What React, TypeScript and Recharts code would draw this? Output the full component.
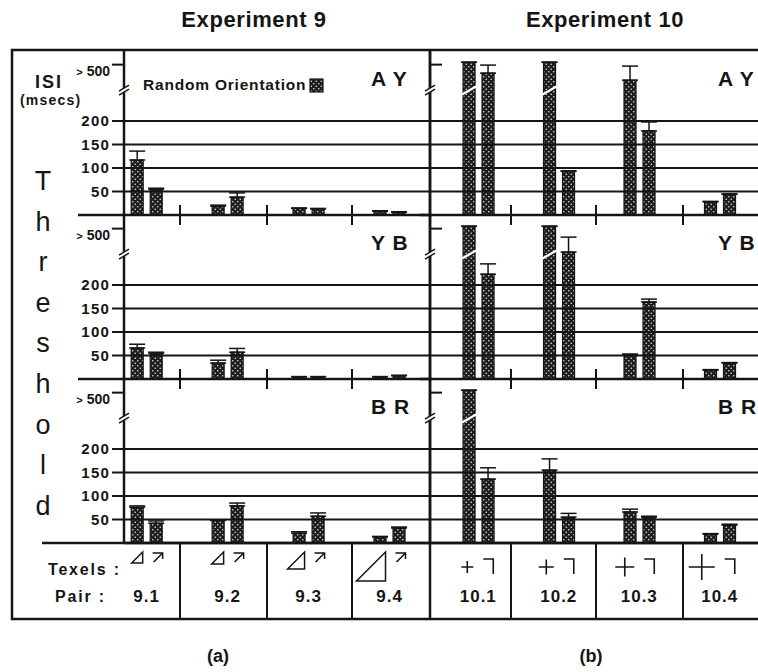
import React from "react";
import { BarChart, Bar, XAxis, YAxis, ReferenceLine, ErrorBar } from "recharts";

const pairs9 = ["9.1", "9.2", "9.3", "9.4"];
const pairs10 = ["10.1", "10.2", "10.3", "10.4"];
const conditions = ["A Y", "Y B", "B R"];

// ISI threshold (msecs) for the two bars of each pair; 500 stands for "> 500"
const e9AY = { a: [117, 19, 14, 8], aErr: [19, 2, 1, 1], b: [55, 38, 13, 6], bErr: [2, 9, 1, 1] };
const e9YB = { a: [66, 34, 5, 5], aErr: [8, 6, 0, 0], b: [55, 57, 5, 7], bErr: [2, 8, 0, 1] };
const e9BR = { a: [76, 48, 21, 13], aErr: [3, 1, 3, 1], b: [42, 79, 57, 32], bErr: [5, 6, 7, 2] };
const e10AY = { a: [500, 500, 373, 28], aErr: [0, 0, 100, 1], b: [423, 93, 179, 44], bErr: [57, 1, 19, 1] };
const e10YB = { a: [500, 500, 52, 19], aErr: [0, 0, 1, 1], b: [223, 317, 164, 34], bErr: [22, 106, 6, 1] };
const e10BR = { a: [500, 155, 66, 19], aErr: [0, 24, 6, 1], b: [136, 55, 55, 38], bErr: [24, 8, 2, 2] };

const yTicks = [50, 100, 150, 200];
const OVER_TICK = 320; // where "> 500" sits on the broken axis

const FONT = "'Liberation Sans', Arial, Helvetica, sans-serif";
const INK = "#151515";

// axis is linear up to 250, compressed above the break
const brk = (v: number) => (v <= 250 ? v : 250 + (v - 250) * 0.3);

const PLOT_H = 164;
const Y_MAX = 349;
const K = PLOT_H / Y_MAX;
const bases = [215, 379, 543];

const panels = [
  { pairs: pairs9, rows: [e9AY, e9YB, e9BR], left: 124, right: 430, dom: [0.72, 4.5], cells: [180, 267, 352] },
  { pairs: pairs10, rows: [e10AY, e10YB, e10BR], left: 430, right: 760, dom: [0.4, 4.5], cells: [511, 596, 683] },
];

type Row = { a: number[]; aErr: number[]; b: number[]; bErr: number[] };

const toData = (pairs: string[], row: Row) =>
  pairs.map((pair, i) => ({
    idx: i + 1,
    pair,
    aRaw: row.a[i],
    bRaw: row.b[i],
    a: brk(row.a[i]),
    b: brk(row.b[i]),
    aErr: [0, brk(row.a[i] + row.aErr[i]) - brk(row.a[i])],
    bErr: [0, brk(row.b[i] + row.bErr[i]) - brk(row.b[i])],
  }));

const xPix = (p: (typeof panels)[number], k: number) =>
  p.left + ((k - p.dom[0]) / (p.dom[1] - p.dom[0])) * (p.right - p.left);

function Stipple(props: any) {
  const { x, y, width, height, over } = props;
  if (!height || height <= 0) return null;
  const yb = y + height - 265 * K;
  return (
    <g>
      <rect x={x} y={y} width={width} height={height} fill="url(#stip)" stroke={INK} strokeWidth={1.2} />
      {over && <line x1={x - 1} y1={yb + 4} x2={x + width + 1} y2={yb - 4} stroke="#fff" strokeWidth={2.2} />}
    </g>
  );
}

function LeftTick(props: any) {
  const { x, y, payload } = props;
  if (payload.value === OVER_TICK) {
    return (
      <text x={x} y={y + 11} textAnchor="end" fontFamily={FONT} fontSize={14} fontWeight={700} fill={INK}>
        <tspan fontSize={11}>{">"}</tspan>
        <tspan fontSize={14} dx={4}>500</tspan>
      </text>
    );
  }
  return (
    <text x={x} y={y + 5} textAnchor="end" fontFamily={FONT} fontSize={15} fontWeight={700} letterSpacing={1.2} fill={INK}>
      {payload.value}
    </text>
  );
}

function RowChart({ pi, ri }: { pi: number; ri: number }) {
  const p = panels[pi];
  const data = toData(p.pairs, p.rows[ri]);
  const base = bases[ri];
  const isLeft = pi === 0;
  return (
    <div style={{ position: "absolute", left: p.left - 60, top: base - PLOT_H - 8 }}>
      <BarChart
        width={p.right - p.left + 60}
        height={PLOT_H + 18}
        data={data}
        barGap={7}
        margin={{ top: 8, right: 0, bottom: 8, left: 0 }}
      >
        <XAxis
          type="number"
          dataKey="idx"
          domain={p.dom as [number, number]}
          allowDataOverflow
          tick={false}
          tickLine={false}
          height={2}
          axisLine={{ stroke: INK, strokeWidth: 2.5 }}
        />
        <YAxis
          type="number"
          domain={[0, Y_MAX]}
          allowDataOverflow
          ticks={[...yTicks, OVER_TICK]}
          width={60}
          tickSize={12}
          tickMargin={2}
          axisLine={{ stroke: INK, strokeWidth: 2.5 }}
          tickLine={isLeft ? { stroke: INK, strokeWidth: 2 } : false}
          tick={isLeft ? LeftTick : false}
        />
        {yTicks.map((v) => (
          <ReferenceLine key={v} y={v} stroke={INK} strokeWidth={1.8} />
        ))}
        <Bar
          dataKey="a"
          barSize={12}
          isAnimationActive={false}
          shape={(s: any) => <Stipple {...s} over={s.payload.aRaw >= 500} />}
        >
          <ErrorBar dataKey="aErr" direction="y" width={8} stroke={INK} strokeWidth={1.5} />
        </Bar>
        <Bar
          dataKey="b"
          barSize={12}
          isAnimationActive={false}
          shape={(s: any) => <Stipple {...s} over={s.payload.bRaw >= 500} />}
        >
          <ErrorBar dataKey="bErr" direction="y" width={8} stroke={INK} strokeWidth={1.5} />
        </Bar>
      </BarChart>
    </div>
  );
}

function AxisBreak({ x, y }: { x: number; y: number }) {
  return (
    <g>
      <polygon points={`${x - 5},${y + 3} ${x + 5},${y - 3} ${x + 5},${y + 1} ${x - 5},${y + 7}`} fill="#fff" />
      <line x1={x - 5} y1={y + 3} x2={x + 5} y2={y - 3} stroke={INK} strokeWidth={1.5} />
      <line x1={x - 5} y1={y + 7} x2={x + 5} y2={y + 1} stroke={INK} strokeWidth={1.5} />
    </g>
  );
}

// texel glyphs drawn under each pair
const triSize = [11, 12, 17, 29];
const crossSize = [12, 15, 19, 26];

function Texel9({ cx, i }: { cx: number; i: number }) {
  const s = triSize[i];
  const r = cx - 4;
  const t = 552;
  const ax = cx + 6;
  return (
    <g stroke={INK} strokeWidth={1.5} fill="none">
      <polygon points={`${r - s},${t + s} ${r},${t + s} ${r},${t}`} />
      <path d={`M ${ax} ${t + 1} H ${ax + 10} V ${t + 7} M ${ax + 10} ${t + 1} L ${ax + 1} ${t + 10}`} />
    </g>
  );
}

function Texel10({ cx, i }: { cx: number; i: number }) {
  const s = crossSize[i];
  const r = cx - 5;
  const my = 567;
  const ax = cx + 5;
  return (
    <g stroke={INK} strokeWidth={1.6} fill="none">
      <path d={`M ${r - s} ${my} H ${r} M ${r - s / 2} ${my - s / 2} V ${my + s / 2}`} />
      <path d={`M ${ax} 559 H ${ax + 10} V 574`} />
    </g>
  );
}

function Overlay() {
  const letters = "Threshold".split("");
  return (
    <svg width={758} height={672} style={{ position: "absolute", left: 0, top: 0, pointerEvents: "none" }}>
      {/* frame, panel divider and the pair table */}
      <rect x={12} y={50} width={760} height={569} fill="none" stroke={INK} strokeWidth={2.5} />
      <line x1={430} y1={50} x2={430} y2={619} stroke={INK} strokeWidth={2.5} />
      <line x1={42} y1={543} x2={772} y2={543} stroke={INK} strokeWidth={2.5} />
      {[...panels[0].cells, ...panels[1].cells].map((x) => (
        <g key={x}>
          <line x1={x} y1={543} x2={x} y2={619} stroke={INK} strokeWidth={2} />
          {bases.slice(0, 2).map((b) => (
            <line key={b} x1={x} y1={b - 10} x2={x} y2={b + 10} stroke={INK} strokeWidth={2} />
          ))}
        </g>
      ))}
      {bases.slice(0, 2).map((b) => (
        <g key={b}>
          <line x1={78} y1={b} x2={124} y2={b} stroke={INK} strokeWidth={2.5} />
          <line x1={420} y1={b} x2={432} y2={b} stroke={INK} strokeWidth={2.5} />
        </g>
      ))}
      {bases.map((b, ri) => (
        <g key={ri}>
          <AxisBreak x={124} y={b - 270 * K} />
          <AxisBreak x={430} y={b - 270 * K} />
          <line x1={430} y1={b - OVER_TICK * K} x2={442} y2={b - OVER_TICK * K} stroke={INK} strokeWidth={2} />
          <text x={371} y={b - 129} fontFamily={FONT} fontSize={21} fontWeight={700} letterSpacing={1} fill={INK}>
            {conditions[ri]}
          </text>
          <text x={718} y={b - 129} fontFamily={FONT} fontSize={21} fontWeight={700} letterSpacing={1} fill={INK}>
            {conditions[ri]}
          </text>
        </g>
      ))}

      {/* titles */}
      <text x={254} y={27} textAnchor="middle" fontFamily={FONT} fontSize={22} fontWeight={700} letterSpacing={0.6} fill={INK}>
        Experiment 9
      </text>
      <text x={605} y={27} textAnchor="middle" fontFamily={FONT} fontSize={22} fontWeight={700} letterSpacing={0.6} fill={INK}>
        Experiment 10
      </text>

      {/* y label */}
      <text x={35} y={88} fontFamily={FONT} fontSize={18} fontWeight={700} letterSpacing={2} fill={INK}>
        ISI
      </text>
      <text x={20} y={105} fontFamily={FONT} fontSize={14} fontWeight={700} letterSpacing={1.2} fill={INK}>
        (msecs)
      </text>
      {letters.map((c, i) => (
        <text key={i} x={43} y={190 + i * 40.6} textAnchor="middle" fontFamily={FONT} fontSize={27} fill={INK}>
          {c}
        </text>
      ))}

      {/* legend */}
      <text x={143} y={90} fontFamily={FONT} fontSize={15.5} fontWeight={700} letterSpacing={0.8} fill={INK}>
        Random Orientation
      </text>
      <rect x={310} y={79} width={13} height={13} fill="url(#stip)" stroke={INK} strokeWidth={1.2} />

      {/* pair table */}
      <text x={48} y={575} fontFamily={FONT} fontSize={16} fontWeight={700} letterSpacing={1.8} fill={INK}>
        Texels :
      </text>
      <text x={55} y={602} fontFamily={FONT} fontSize={16} fontWeight={700} letterSpacing={1.8} fill={INK}>
        Pair :
      </text>
      {panels.map((p, pi) =>
        p.pairs.map((name, i) => {
          const cx = xPix(p, i + 1);
          return (
            <g key={name}>
              {pi === 0 ? <Texel9 cx={cx} i={i} /> : <Texel10 cx={cx} i={i} />}
              <text x={cx} y={602} textAnchor="middle" fontFamily={FONT} fontSize={17} fontWeight={700} letterSpacing={1} fill={INK}>
                {name}
              </text>
            </g>
          );
        })
      )}

      <text x={218} y={662} textAnchor="middle" fontFamily={FONT} fontSize={18} fontWeight={700} fill={INK}>
        (a)
      </text>
      <text x={591} y={662} textAnchor="middle" fontFamily={FONT} fontSize={18} fontWeight={700} fill={INK}>
        (b)
      </text>
    </svg>
  );
}

export default function App() {
  return (
    <div style={{ position: "absolute", left: 0, top: 0, width: 758, height: 672, overflow: "hidden", background: "#fff" }}>
      <svg width={0} height={0} style={{ position: "absolute" }}>
        <defs>
          <pattern id="stip" width={5} height={5} patternUnits="userSpaceOnUse">
            <rect width={5} height={5} fill="#1e1e1e" />
            <circle cx={1.25} cy={1.25} r={0.8} fill="#dcdcdc" />
            <circle cx={3.75} cy={3.75} r={0.8} fill="#dcdcdc" />
          </pattern>
        </defs>
      </svg>
      {panels.map((_, pi) => [0, 1, 2].map((ri) => <RowChart key={`${pi}-${ri}`} pi={pi} ri={ri} />))}
      <Overlay />
    </div>
  );
}
